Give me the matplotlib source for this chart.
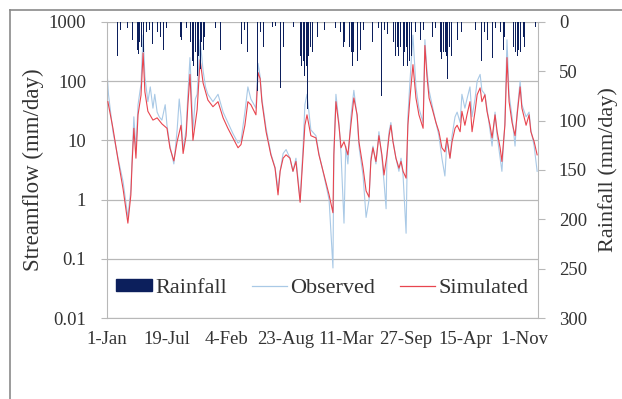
import matplotlib
matplotlib.use('Agg')
import matplotlib.pyplot as plt
from matplotlib.patches import Patch
from matplotlib.lines import Line2D

# x axis: days since start, tick every 200 days
tick_days = [0, 200, 400, 600, 800, 1000, 1200, 1400]
tick_labels = ['1-Jan', '19-Jul', '4-Feb', '23-Aug', '11-Mar', '27-Sep', '15-Apr', '1-Nov']

sim_days = [3, 20, 37, 54, 70, 80, 84, 90, 97, 104, 114, 121, 127, 137, 154, 168, 184, 201,
            211, 224, 235, 248, 255, 265, 271, 278, 288, 302, 312, 322, 338, 355, 372, 389,
            405, 422, 439, 449, 462, 472, 482, 499, 506, 513, 519, 533, 549, 563, 573, 580,
            590, 600, 613, 623, 633, 647, 657, 663, 670, 683, 700, 710, 727, 744, 757, 760,
            767, 777, 784, 794, 807, 817, 827, 838, 844, 858, 868, 878, 884, 891, 901, 911,
            921, 928, 938, 945, 951, 958, 968, 978, 985, 992, 1002, 1008, 1015, 1025, 1035,
            1045, 1059, 1065, 1072, 1079, 1089, 1102, 1112, 1122, 1132, 1139, 1149, 1156,
            1166, 1173, 1183, 1189, 1199, 1206, 1216, 1223, 1233, 1240, 1250, 1256, 1266,
            1273, 1283, 1290, 1300, 1307, 1317, 1323, 1333, 1340, 1347, 1357, 1367, 1374,
            1384, 1390, 1404, 1414, 1420, 1431, 1441]
sim_flow = [45, 16, 4.7, 1.5, 0.4, 1.2, 4, 16, 5, 27, 58, 300, 66, 31, 22, 24, 19, 16,
            7.4, 4.5, 9.6, 18, 6, 12, 40, 130, 10, 33, 230, 93, 48, 37, 45, 24,
            16, 11, 7.5, 8.5, 18, 45, 40, 27, 140, 110, 45, 14, 5.7, 3.4, 1.2, 3,
            5, 5.7, 5, 3, 4.4, 0.9, 5.7, 18, 27, 12, 11, 5.7, 2.6, 1.2, 0.6, 5.7,
            45, 18, 7.5, 9.5, 5.7, 18, 52, 27, 9.5, 3.4, 1.4, 1.1, 4.4, 7.5, 4.4, 12,
            5.7, 2.6, 5.7, 12, 18, 9.5, 5, 3.4, 4.4, 3, 2.3, 18, 52, 190, 52,
            27, 16, 400, 120, 52, 35, 20, 14, 7.5, 6.4, 11, 5, 9.5,
            16, 18, 14, 31, 18, 27, 45, 14, 31, 59, 77, 45, 59,
            31, 18, 11, 27, 14, 7.5, 4.4, 18, 250, 45, 20, 12, 27,
            80, 35, 18, 27, 14, 9.5, 5.7]

obs_days = [0, 5, 20, 37, 54, 70, 80, 85, 90, 97, 104, 114, 121, 127, 137, 145, 154, 160,
            168, 175, 184, 195, 201, 211, 224, 235, 242, 248, 255, 265, 271, 278, 288, 296,
            302, 312, 322, 330, 338, 355, 372, 389, 405, 422, 439, 449, 462, 472, 482, 499,
            506, 513, 519, 533, 549, 563, 573, 580, 590, 600, 613, 623, 633, 647, 657, 663,
            670, 683, 700, 710, 727, 744, 757, 760, 767, 777, 784, 794, 800, 807, 817, 827,
            838, 844, 858, 868, 878, 884, 891, 901, 911, 921, 928, 935, 938, 945, 951, 958,
            968, 978, 985, 992, 1002, 1008, 1015, 1025, 1035, 1045, 1059, 1065, 1072, 1079,
            1089, 1102, 1112, 1122, 1132, 1139, 1149, 1156, 1166, 1173, 1183, 1189, 1199,
            1206, 1216, 1223, 1233, 1240, 1250, 1256, 1266, 1273, 1283, 1290, 1300, 1307,
            1317, 1323, 1333, 1340, 1347, 1357, 1367, 1374, 1384, 1390, 1404, 1414, 1420,
            1431, 1441]
obs_flow = [150, 60, 14, 5, 2, 0.5, 1.5, 6, 25, 7, 40, 90, 600, 120, 45, 80, 35, 60,
            30, 25, 22, 40, 18, 8, 4, 15, 50, 25, 7, 15, 60, 250, 15, 50,
            60, 500, 150, 80, 60, 45, 60, 30, 20, 13, 9, 10, 30, 80, 50, 35,
            200, 120, 50, 16, 6, 3.5, 1.5, 3, 6, 7, 5, 3, 5, 1, 8, 40,
            60, 15, 12, 6, 2.5, 1, 0.07, 6, 60, 20, 6, 0.4, 8, 4, 25, 70,
            25, 8, 2.5, 0.5, 1, 5, 8, 4, 14, 5, 2, 0.7, 6, 14, 20, 10,
            5, 3, 5, 2.5, 0.27, 25, 100, 600, 80, 35, 20, 500, 150, 70,
            40, 20, 12, 5, 2.5, 10, 5, 12, 25, 30, 20, 60, 35,
            50, 80, 25, 50, 100, 130, 70, 60, 35, 15, 8, 30, 12,
            5, 3, 20, 500, 60, 25, 8, 30, 100, 40, 25, 30, 15,
            8, 3]

rain_days = [34, 44, 57, 70, 77, 84, 87, 94, 101, 104, 107, 110, 114, 117, 121, 124, 131,
             141, 151, 161, 168, 178, 188, 198, 211, 228, 245, 251, 265, 278, 281, 285,
             288, 291, 295, 298, 302, 305, 308, 312, 315, 318, 322, 328, 335, 345, 355,
             365, 379, 392, 412, 422, 429, 439, 452, 462, 472, 479, 489, 503, 513, 523,
             536, 553, 566, 580, 590, 603, 613, 626, 640, 647, 650, 653, 657, 660, 663,
             667, 670, 673, 676, 680, 683, 687, 690, 704, 717, 730, 747, 767, 781, 791,
             797, 804, 811, 814, 818, 821, 827, 838, 848, 858, 871, 881, 888, 898, 911,
             921, 931, 941, 958, 960, 965, 968, 972, 975, 978, 982, 985, 992, 995, 998,
             1002, 1005, 1008, 1012, 1015, 1019, 1025, 1035, 1049, 1059, 1072, 1089, 1102,
             1116, 1119, 1122, 1126, 1129, 1133, 1136, 1139, 1142, 1146, 1149, 1153, 1159,
             1173, 1189, 1206, 1216, 1226, 1236, 1243, 1256, 1266, 1276, 1290, 1303, 1317,
             1327, 1333, 1340, 1350, 1360, 1363, 1367, 1370, 1374, 1378, 1384, 1387, 1394,
             1397, 1400, 1407, 1417, 1427, 1437]
rain_mm = [35, 8, 12, 6, 25, 18, 35, 12, 28, 20, 32, 20, 25, 25, 30, 20, 10,
           8, 22, 40, 10, 15, 28, 6, 8, 5, 15, 18, 6, 30, 20, 40,
           25, 45, 35, 30, 55, 40, 35, 48, 30, 20, 28, 15, 40, 8, 15,
           6, 28, 5, 6, 12, 18, 25, 22, 8, 30, 10, 37, 70, 10, 25,
           8, 5, 4, 67, 25, 6, 15, 5, 18, 35, 30, 45, 40, 28, 55,
           45, 40, 88, 35, 50, 25, 30, 35, 15, 5, 8, 4, 6, 10, 25,
           20, 35, 25, 40, 30, 45, 30, 40, 28, 8, 35, 10, 20, 40, 6,
           75, 8, 12, 30, 20, 40, 35, 25, 30, 35, 25, 20, 45, 35, 30,
           25, 15, 45, 40, 30, 35, 50, 10, 18, 8, 12, 15, 6,
           30, 20, 38, 30, 25, 30, 35, 40, 58, 25, 30, 35, 40,
           18, 10, 20, 35, 35, 8, 18, 40, 10, 18, 37, 6, 10,
           28, 15, 28, 6, 32, 25, 37, 30, 35, 28, 30, 20, 15,
           20, 25, 20, 25, 8, 5]

plt.rcParams['font.family'] = ['Liberation Serif', 'DejaVu Serif']
text_col = '#333333'
grid_col = '#b8b8b8'
obs_col = '#a9c9e6'
sim_col = '#e8454f'
rain_col = '#0c1f5c'

fig = plt.figure(figsize=(6.22, 3.99), dpi=100)
ax = fig.add_axes([0.172, 0.203, 0.693, 0.742])

ax.plot(obs_days, obs_flow, color=obs_col, lw=0.8, zorder=2)
ax.plot(sim_days, sim_flow, color=sim_col, lw=0.8, zorder=3)
ax.set_yscale('log')
ax.set_ylim(0.01, 1000)
ax.set_xlim(0, 1444)
ax.set_yticks([0.01, 0.1, 1, 10, 100, 1000])
ax.set_yticklabels(['0.01', '0.1', '1', '10', '100', '1000'])
ax.minorticks_off()
ax.set_xticks(tick_days)
ax.set_xticklabels(tick_labels)
ax.yaxis.grid(True, color=grid_col, lw=0.9)
ax.set_axisbelow(True)
ax.tick_params(axis='x', length=0, pad=9, labelsize=13.5, colors=text_col)
ax.tick_params(axis='y', length=4, pad=11, labelsize=13.5, colors=text_col, color=grid_col)
ax.set_ylabel('Streamflow (mm/day)', fontsize=16.5, color=text_col, labelpad=3)
for s in ['top', 'right']:
    ax.spines[s].set_visible(False)
for s in ['left', 'bottom']:
    ax.spines[s].set_color(grid_col)

ax2 = ax.twinx()
ax2.bar(rain_days, rain_mm, width=3, color=rain_col, align='center', zorder=4)
ax2.set_ylim(300, 0)
ax2.set_xlim(0, 1444)
ax2.set_yticks([0, 50, 100, 150, 200, 250, 300])
ax2.tick_params(axis='y', length=5, pad=10, labelsize=13.5, colors=text_col, color=grid_col)
ax2.set_ylabel('Rainfall (mm/day)', fontsize=16, color=text_col, labelpad=8)
for s in ['top', 'left', 'bottom']:
    ax2.spines[s].set_visible(False)
ax2.spines['right'].set_color(grid_col)

handles = [Patch(facecolor=rain_col, edgecolor=rain_col),
           Line2D([], [], color=obs_col, lw=0.9),
           Line2D([], [], color=sim_col, lw=0.9)]
leg = ax2.legend(handles, ['Rainfall', 'Observed', 'Simulated'], ncol=3, frameon=False,
                 loc='center', bbox_to_anchor=(0.5, 0.1), fontsize=16,
                 handlelength=1.6, handleheight=0.5, handletextpad=0.15,
                 columnspacing=1.1, borderaxespad=0)
for t in leg.get_texts():
    t.set_color(text_col)

# outer frame of the original figure
fig.add_artist(Line2D([10 / 622, 10 / 622], [0, 1 - 10 / 399], transform=fig.transFigure,
                      color='#8a8a8a', lw=1.2))
fig.add_artist(Line2D([10 / 622, 1], [1 - 10 / 399, 1 - 10 / 399], transform=fig.transFigure,
                      color='#8a8a8a', lw=1.2))

fig.savefig('out.png', dpi=100)
